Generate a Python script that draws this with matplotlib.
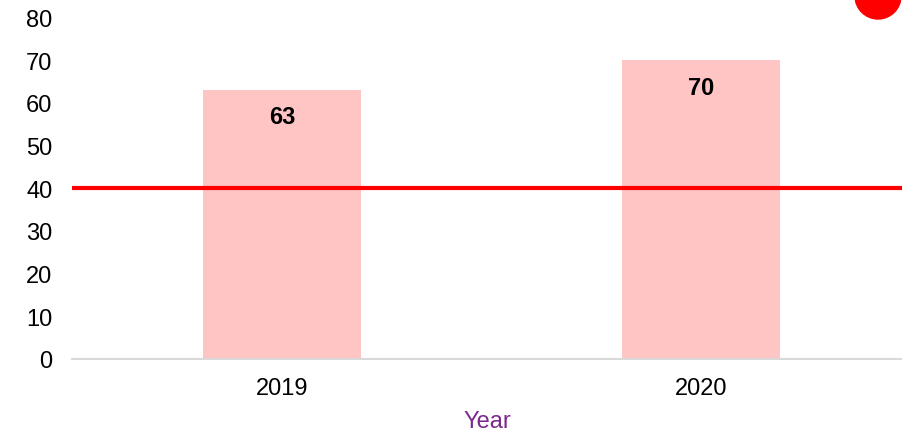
import matplotlib
matplotlib.use("Agg")
import matplotlib.pyplot as plt
from matplotlib.patches import Ellipse

categories = ["2019", "2020"]
values = [63, 70]
target = 40
yticks = [0, 10, 20, 30, 40, 50, 60, 70, 80]

plt.rcParams['font.family'] = ['Liberation Sans', 'DejaVu Sans']

W, H = 902, 435
fig = plt.figure(figsize=(W / 100, H / 100), dpi=100)
ax = fig.add_axes([72 / W, 1 - 360 / H, (902 - 72) / W, (360 - 18.3) / H])

x = list(range(len(categories)))
bars = ax.bar(x, values, width=0.377, color="#FFC4C4", zorder=2)
for xi, v in zip(x, values):
    ax.annotate(str(v), (xi, v), xytext=(0, -27), textcoords="offset pixels",
                ha="center", va="center", fontsize=17, fontweight="bold", color="black", zorder=4)

ax.axhline(target, color="#FF0000", linewidth=3, zorder=3)

ax.set_xlim(-0.501, 1.48)
ax.set_ylim(0, 80)
ax.set_yticks(yticks)
ax.set_xticks(x)
ax.set_xticklabels(categories)
ax.tick_params(axis="both", length=0, labelsize=17, colors="black")
ax.tick_params(axis="y", pad=14)
ax.tick_params(axis="x", pad=13)
for s in ["top", "right", "left"]:
    ax.spines[s].set_visible(False)
ax.spines["bottom"].set_color("#D9D9D9")
ax.spines["bottom"].set_linewidth(1.5)
ax.set_xlabel("Year", fontsize=17, color="#7A2A8C", labelpad=8)

# decorative red dot cut off at top-right
circ = Ellipse((878 / W, 1 + 3 / H), 46 / W, 46 / H, transform=fig.transFigure,
               color="#FF0000", clip_on=False)
fig.patches.append(circ)

fig.savefig("out.png", dpi=100)
